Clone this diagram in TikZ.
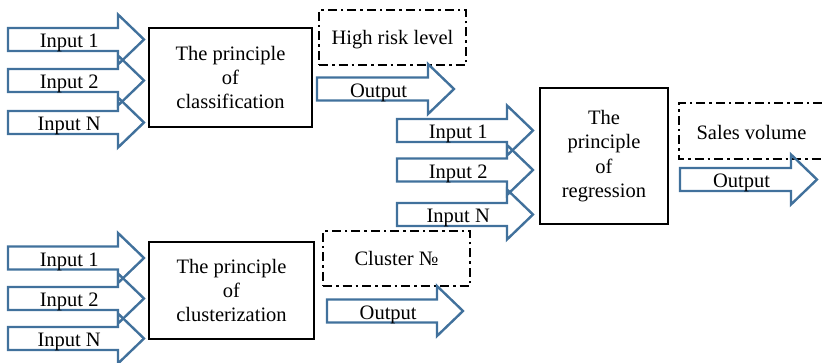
\documentclass[tikz,border=0pt]{standalone}
\usepackage{fontspec}
\setmainfont{Liberation Serif}
\definecolor{arrowblue}{RGB}{65,113,156}
\newcommand{\labelfont}{\fontsize{20.5}{24.3}\selectfont}
\tikzset{
  blockarrow/.style={draw=arrowblue, line width=2.4pt, line join=miter},
  arrowlabel/.style={anchor=base, inner sep=0pt, font=\labelfont},
  procbox/.style={draw=black, line width=2.8pt, align=center, inner sep=2pt, font=\labelfont},
  resultline/.style={draw=black, line width=2.8pt, dash pattern=on 9pt off 4pt on 2.5pt off 4pt},
  resultbox/.style={resultline, inner sep=0pt, text height=14.5pt, text depth=0pt, font=\labelfont},
}
% block arrow: name, tail x, centre y, tip x, label
\newcommand{\blockarrow}[5]{%
  \draw[blockarrow] ({#2},{#3-11.5}) -- ({#4-26},{#3-11.5}) -- ({#4-26},{#3-25})
    -- ({#4},{#3}) -- ({#4-26},{#3+25}) -- ({#4-26},{#3+11.5}) -- ({#2},{#3+11.5}) -- cycle;
  \node[arrowlabel] (#1) at ({#2+0.45*(#4-#2)},{#3+8.3}) {#5};
}
\begin{document}
\begin{tikzpicture}[x=1pt, y=-1pt]
\useasboundingbox (0,0) rectangle (822,363);

% classification
\node[procbox, minimum width=163pt, minimum height=99pt] (cls) at (230.5,77.5)
  {The principle\\of\\classification};
\blockarrow{clsin1}{8}{39.5}{144}{Input 1}
\blockarrow{clsin2}{8}{80.5}{144}{Input 2}
\blockarrow{clsinN}{8}{122.5}{144}{Input N}
\node[resultbox, minimum width=147pt, minimum height=55pt] (risk) at (392.5,37.5) {High risk level};
\blockarrow{clsout}{317}{89}{454}{Output}

% regression
\node[procbox, minimum width=128pt, minimum height=136pt] (reg) at (604,156)
  {The\\principle\\of\\regression};
\blockarrow{regin1}{397}{130.5}{533}{Input 1}
\blockarrow{regin2}{397}{170}{533}{Input 2}
\blockarrow{reginN}{397}{214.5}{533}{Input N}
\node[font=\labelfont, inner sep=0pt, text height=14.5pt, text depth=0pt] (sales) at (751.5,132) {Sales volume};
\draw[resultline] (822,103) -- (679,103) -- (679,159) -- (822,159);
\blockarrow{regout}{680}{179.5}{817}{Output}

% clusterization
\node[procbox, minimum width=165pt, minimum height=97pt] (clu) at (231.5,290.5)
  {The principle\\of\\clusterization};
\blockarrow{cluin1}{8}{258}{144}{Input 1}
\blockarrow{cluin2}{8}{298.5}{144}{Input 2}
\blockarrow{cluinN}{8}{338.5}{144}{Input N}
\node[resultbox, minimum width=147pt, minimum height=55pt] (clno) at (396.5,258.5) {Cluster №};
\blockarrow{cluout}{327}{311}{463}{Output}
\end{tikzpicture}
\end{document}
